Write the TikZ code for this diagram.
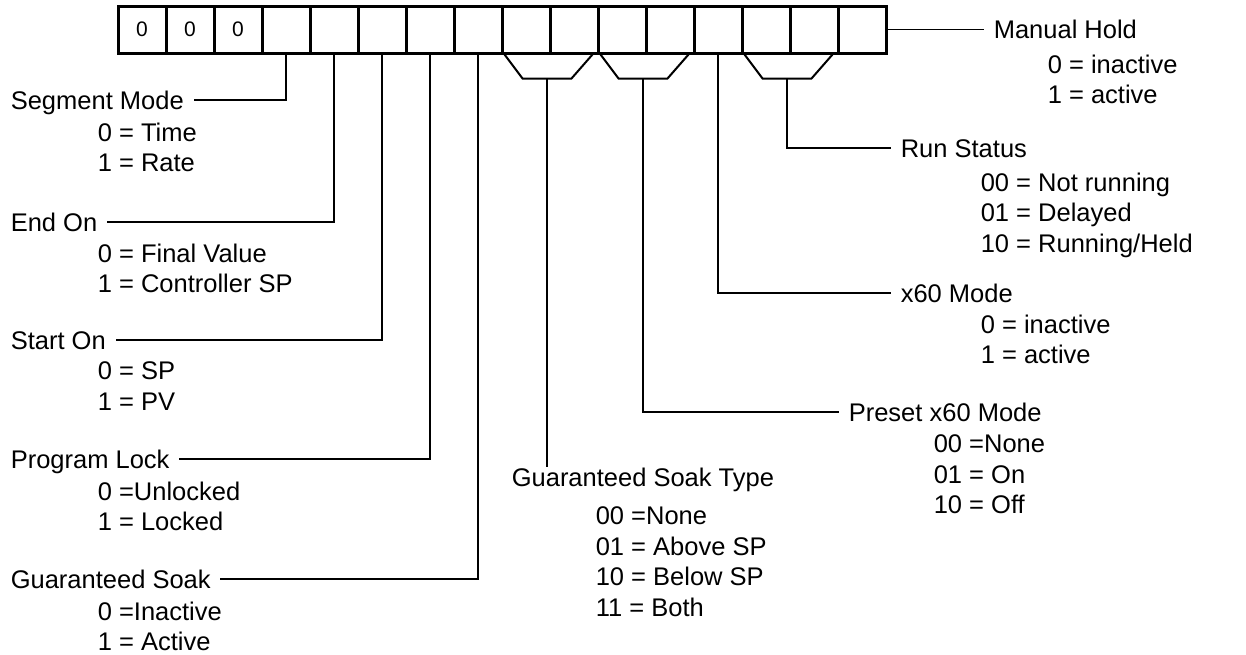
\documentclass[tikz,border=0pt]{standalone}
\usepackage{fontspec}
\setmainfont{Liberation Sans}

\begin{document}
\begin{tikzpicture}[x=1pt, y=-1pt, line width=1.6pt,
    bit/.style={rectangle, draw, line width=3pt, minimum width=48pt, minimum height=47pt, inner sep=0pt, font=\fontsize{21}{25}\selectfont},
    title/.style={inner xsep=9pt, inner ysep=0pt, text height=18pt, text depth=0pt, font=\fontsize{25.5}{31}\selectfont},
    values/.style={anchor=north west, align=left, inner sep=0pt, font=\fontsize{25.5}{30.5}\selectfont}]
        \useasboundingbox (0,0) rectangle (1246,654);

        % the 16 bits of the word
        \node[bit] (c0) at (142,29.5) {0};
        \node[bit] (c1) at (190,29.5) {0};
        \node[bit] (c2) at (238,29.5) {0};
        \node[bit] (c3) at (286,29.5) {};
        \node[bit] (c4) at (334,29.5) {};
        \node[bit] (c5) at (382,29.5) {};
        \node[bit] (c6) at (430,29.5) {};
        \node[bit] (c7) at (478,29.5) {};
        \node[bit] (c8) at (526,29.5) {};
        \node[bit] (c9) at (574,29.5) {};
        \node[bit] (c10) at (622,29.5) {};
        \node[bit] (c11) at (670,29.5) {};
        \node[bit] (c12) at (718,29.5) {};
        \node[bit] (c13) at (766,29.5) {};
        \node[bit] (c14) at (814,29.5) {};
        \node[bit] (c15) at (862,29.5) {};

        % left side
        \node[title, anchor=west] (segm) at (1,100) {Segment Mode};
        \node[values] (segmv) at (97,122) {0 = Time\\1 = Rate};
        \node[title, anchor=west] (endon) at (1,222) {End On};
        \node[values] (endonv) at (97,243) {0 = Final Value\\1 = Controller SP};
        \node[title, anchor=west] (starton) at (1,340) {Start On};
        \node[values] (startonv) at (97,361) {0 = SP\\1 = PV};
        \node[title, anchor=west] (lock) at (1,459) {Program Lock};
        \node[values] (lockv) at (97,481) {0 =Unlocked\\1 = Locked};
        \node[title, anchor=west] (gsoak) at (1,579) {Guaranteed Soak};
        \node[values] (gsoakv) at (97,601) {0 =Inactive\\1 = Active};

        % middle and right side
        \node[title, anchor=west] (gst) at (502,477) {Guaranteed Soak Type};
        \node[values] (gstv) at (595,506) {00 =None\\01 = Above SP\\10 = Below SP\\11 = Both};
        \node[title, anchor=west] (preset) at (839,412) {Preset x60 Mode};
        \node[values] (presetv) at (933,434) {00 =None\\01 = On\\10 = Off};
        \node[title, anchor=west] (xsixty) at (891,293) {x60 Mode};
        \node[values] (xsixtyv) at (980,314) {0 = inactive\\1 = active};
        \node[title, anchor=west] (run) at (891,148) {Run Status};
        \node[values] (runv) at (980,172) {00 = Not running\\01 = Delayed\\10 = Running/Held};
        \node[title, anchor=west] (hold) at (984,29.5) {Manual Hold};
        \node[values] (holdv) at (1047,54) {0 = inactive\\1 = active};

        % brackets under the two-bit fields
        \draw[line width=2pt] (c8.south west) ++(4,0) -- ++(18,24) -- ++(49,0) coordinate[midway] (gstb) -- ++(21,-24);
        \draw[line width=2pt] (c10.south west) ++(4,0) -- ++(18,24) -- ++(49,0) coordinate[midway] (presb) -- ++(21,-24);
        \draw[line width=2pt] (c13.south west) ++(4,0) -- ++(18,24) -- ++(49,0) coordinate[midway] (runb) -- ++(21,-24);

        \draw (c3.south) |- (segm.east);
        \draw (c4.south) |- (endon.east);
        \draw (c5.south) |- (starton.east);
        \draw (c6.south) |- (lock.east);
        \draw (c7.south) |- (gsoak.east);
        \draw (gstb) -- (gstb |- gst.north);
        \draw (presb) |- (preset.west);
        \draw (c12.south) |- (xsixty.west);
        \draw (runb) |- (run.west);
        \draw (c15.east) -- (hold.west);
      \end{tikzpicture}
\end{document}
